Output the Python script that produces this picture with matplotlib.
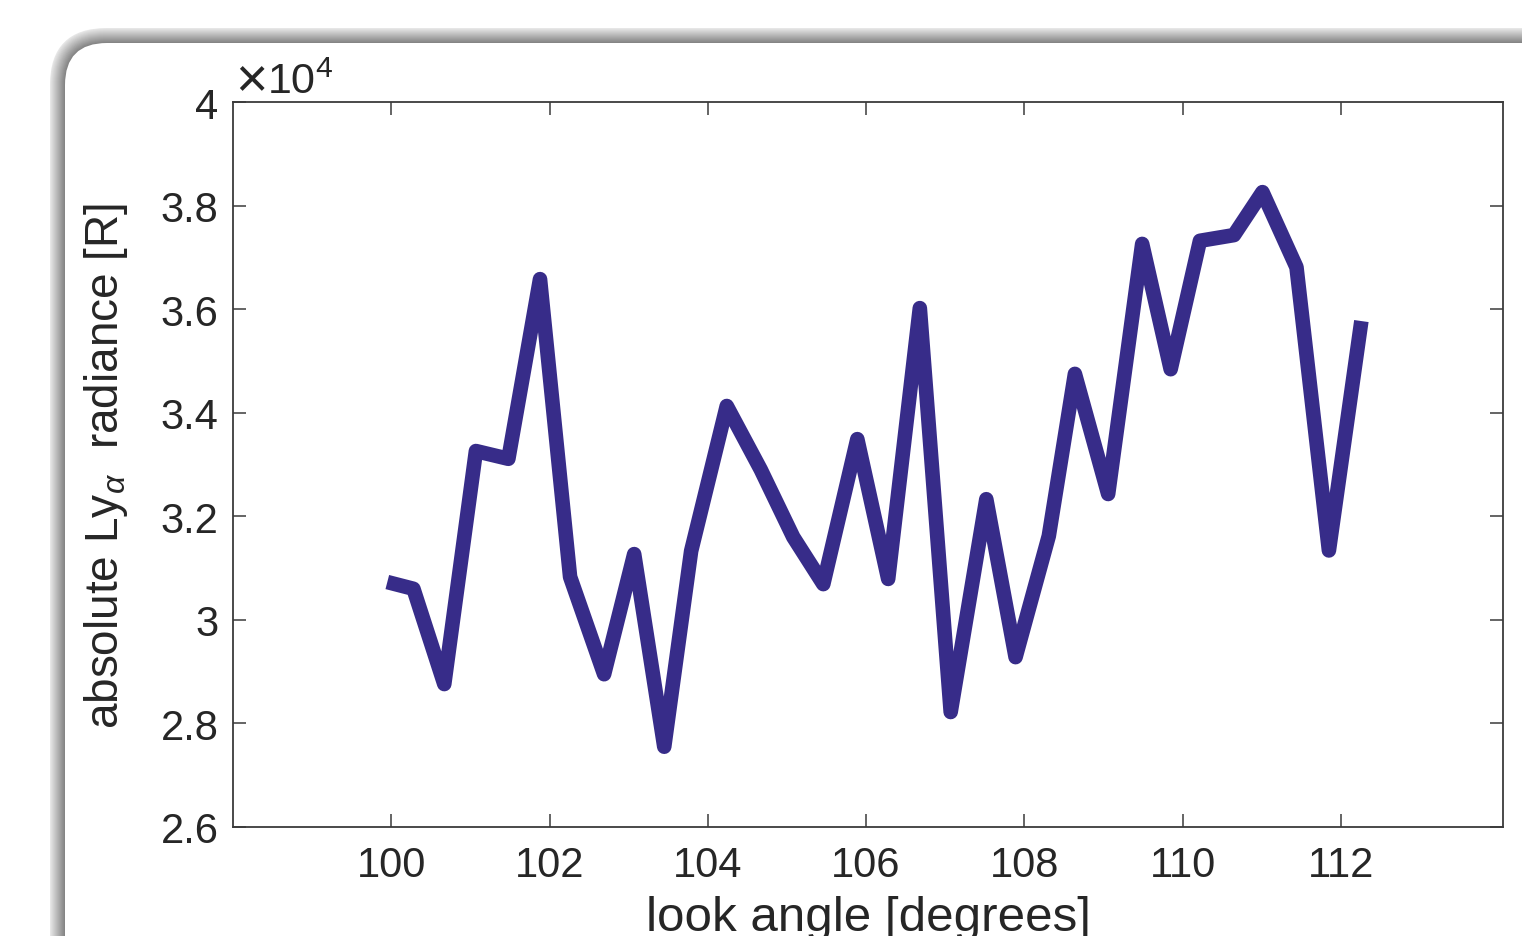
"""
Absolute Lyman-alpha radiance versus look angle, drawn on a rounded card.
"""

import matplotlib
matplotlib.use("Agg")
import matplotlib.pyplot as plt
from matplotlib.patches import FancyBboxPatch
from matplotlib.ticker import FixedLocator, FixedFormatter

# look angle [degrees]
look_angle = [99.95, 100.28, 100.67, 101.07, 101.48, 101.88, 102.26, 102.69,
              103.07, 103.45, 103.79, 104.24, 104.67, 105.08, 105.46, 105.89,
              106.28, 106.68, 107.07, 107.52, 107.89, 108.31, 108.64, 109.06,
              109.49, 109.85, 110.22, 110.65, 111.01, 111.44, 111.85, 112.26]
# absolute Ly-alpha radiance [R]
radiance = [30730, 30600, 28760, 33260, 33110, 36580, 30830, 28950,
            31270, 27550, 31330, 34130, 32900, 31600, 30690, 33490,
            30790, 36020, 28220, 32330, 29280, 31620, 34750, 32430,
            37260, 34840, 37320, 37430, 38260, 36810, 31340, 35770]

x_ticks = [100, 102, 104, 106, 108, 110, 112]
y_ticks = [2.6, 2.8, 3.0, 3.2, 3.4, 3.6, 3.8, 4.0]
y_tick_labels = ["2.6", "2.8", "3", "3.2", "3.4", "3.6", "3.8", "4"]
y_scale = 1e4

plt.rcParams["font.family"] = ["Liberation Sans", "DejaVu Sans"]
plt.rcParams["mathtext.fontset"] = "custom"
plt.rcParams["mathtext.rm"] = "Liberation Sans"
plt.rcParams["mathtext.it"] = "Liberation Sans:italic"
plt.rcParams["mathtext.sf"] = "Liberation Sans"

W, H = 1522, 937
fig = plt.figure(figsize=(W / 100, H / 100), dpi=100, facecolor="white")

# background card with a soft grey edge (pixel coordinates)
bg = fig.add_axes([0, 0, 1, 1], zorder=0)
bg.set_xlim(0, W)
bg.set_ylim(H, 0)
bg.axis("off")
card_x, card_y, card_r = 65, 44, 42
n_layers = 15
for k in range(n_layers):
    d = n_layers - k
    g = 0.90 - 0.38 * k / (n_layers - 1)
    bg.add_patch(FancyBboxPatch(
        (card_x - d, card_y - d), 1700, 1200,
        boxstyle=f"round,pad=0,rounding_size={card_r + d}",
        facecolor=(g, g, g), edgecolor="none"))
bg.add_patch(FancyBboxPatch(
    (card_x, card_y), 1700, 1200,
    boxstyle=f"round,pad=0,rounding_size={card_r}",
    facecolor="white", edgecolor="none"))

text_col = "#262626"
ax = fig.add_axes([233 / W, 1 - 828 / H, 1270 / W, 725 / H], zorder=1)
ax.plot(look_angle, [r / y_scale for r in radiance], color="#372C89", lw=10.5,
        solid_joinstyle="round", solid_capstyle="butt")

ax.set_xlim(98, 114.05)
ax.set_ylim(2.6, 4.0)
ax.xaxis.set_major_locator(FixedLocator(x_ticks))
ax.yaxis.set_major_locator(FixedLocator(y_ticks))
ax.yaxis.set_major_formatter(FixedFormatter(y_tick_labels))
ax.tick_params(direction="in", length=9.5, width=1.1, color="#3a3a3a",
               labelsize=30, labelcolor=text_col, top=True, right=True)
ax.tick_params(axis="y", pad=10.5)
ax.tick_params(axis="x", pad=13)
for s in ax.spines.values():
    s.set_color("#3a3a3a")
    s.set_linewidth(1.3)

ax.set_xlabel("look angle [degrees]", fontsize=35.5, color=text_col)
ax.xaxis.set_label_coords(0.5, -0.094)
ax.set_ylabel(r"absolute Ly$_{\alpha}$  radiance [R]", fontsize=33, color=text_col)
ax.yaxis.set_label_coords(-0.081, 0.5)

# exponent label at the top-left of the axes
ax.text(0.002, 1.010, "\u00d7", transform=ax.transAxes, fontsize=40,
        color=text_col, ha="left", va="baseline", fontweight="light")
ax.text(0.027, 1.012, r"$10^{4}$", transform=ax.transAxes, fontsize=31,
        color=text_col, ha="left", va="baseline")

fig.savefig("out.png", dpi=100)
